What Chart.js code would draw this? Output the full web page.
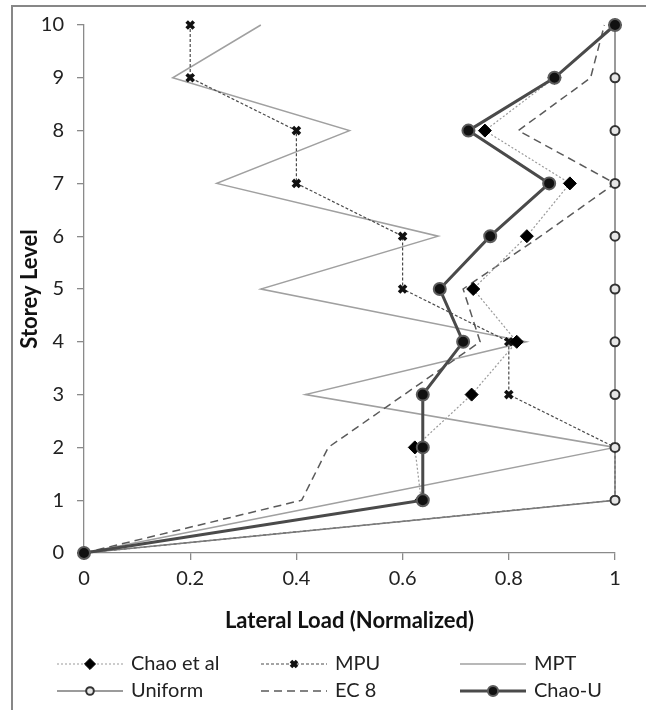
<!DOCTYPE html>
<html>
<head>
<meta charset="utf-8">
<script src="https://cdn.jsdelivr.net/npm/chart.js@4/dist/chart.umd.min.js"></script>
<style>
  html, body { margin: 0; padding: 0; background: #fff; }
  #wrap { position: relative; width: 646px; height: 710px; overflow: hidden; }
  #frame { position: absolute; left: 11px; top: 5px; width: 800px; height: 900px;
           border-top: 2px solid #878787; border-left: 2px solid #878787; }
  #c { position: absolute; left: 0; top: 0; }
</style>
</head>
<body>
<div id="wrap">
  <div id="frame"></div>
  <canvas id="c" width="646" height="710"></canvas>
</div>
<script>
// Storey levels (y) and normalized lateral load per storey (x)
const storeys  = [0, 1, 2, 3, 4, 5, 6, 7, 8, 9, 10];
const chaoEtAl = [0, 0.635, 0.623, 0.730, 0.815, 0.733, 0.834, 0.915, 0.755, 0.886, 1.0];
const mpu      = [0, 1.0, 1.0, 0.8, 0.8, 0.6, 0.6, 0.4, 0.4, 0.2, 0.2];
const mpt      = [0, 0.5, 1.0, 0.417, 0.833, 0.333, 0.667, 0.25, 0.5, 0.167, 0.333];
const uniform  = [0, 1, 1, 1, 1, 1, 1, 1, 1, 1, 1];
const ec8      = [0, 0.41, 0.46, 0.603, 0.746, 0.714, 0.86, 1.0, 0.818, 0.954, 0.98];
const chaoU    = [0, 0.638, 0.638, 0.638, 0.714, 0.670, 0.765, 0.876, 0.724, 0.886, 1.0];

const seriesNames = ['Chao et al', 'MPU', 'MPT', 'Uniform', 'EC 8', 'Chao-U'];
const xTicks = [0, 0.2, 0.4, 0.6, 0.8, 1];
const yTicks = storeys;

const FONT = 'Lato, "Liberation Sans", sans-serif';
const AXIS = '#8a8a8a';

const pts = vals => vals.map((v, i) => ({ x: v, y: storeys[i] }));

const datasets = [
  { label: seriesNames[0], data: pts(chaoEtAl), borderColor: '#9a9a9a', borderWidth: 1.2,
    borderDash: [2, 2], pointStyle: 'rectRot', pointRadius: 6.5,
    pointBackgroundColor: '#000', pointBorderColor: '#000', pointBorderWidth: 1, order: 2 },
  { label: seriesNames[1], data: pts(mpu), borderColor: '#4a4a4a', borderWidth: 1.2,
    borderDash: [3, 2], pointStyle: 'crossRot', pointRadius: 5,
    pointBackgroundColor: '#000', pointBorderColor: '#111', pointBorderWidth: 3.6, order: 3 },
  { label: seriesNames[2], data: pts(mpt), borderColor: '#a0a0a0', borderWidth: 1.5,
    borderDash: [], pointRadius: 0, pointStyle: false, order: 5 },
  { label: seriesNames[3], data: pts(uniform), borderColor: '#7a7a7a', borderWidth: 1.5,
    borderDash: [], pointStyle: 'circle', pointRadius: 4.5,
    pointBackgroundColor: '#e6e6e6', pointBorderColor: '#333', pointBorderWidth: 2, order: 1 },
  { label: seriesNames[4], data: pts(ec8), borderColor: '#5a5a5a', borderWidth: 1.5,
    borderDash: [8, 5], pointRadius: 0, pointStyle: false, order: 4 },
  { label: seriesNames[5], data: pts(chaoU), borderColor: '#4a4a4a', borderWidth: 3,
    borderDash: [], pointStyle: 'circle', pointRadius: 6,
    pointBackgroundColor: '#111', pointBorderColor: '#5c5c5c', pointBorderWidth: 2, order: 0 }
].map(d => Object.assign({ fill: false, tension: 0, clip: false, showLine: true,
                           pointHoverRadius: d.pointRadius }, d));

// Legend drawn beneath the axis title: 3 columns x 2 rows, each sample is line + marker
const legendPlugin = {
  id: 'sampleLegend',
  afterDraw(chart) {
    const ctx = chart.ctx;
    const colX = [57, 261, 460];
    const rowY = [664, 691];
    const sampleW = 66;
    ctx.save();
    chart.data.datasets.forEach((ds, i) => {
      const col = i % 3, row = Math.floor(i / 3);
      const x0 = colX[col], y = rowY[row];
      ctx.save();
      ctx.strokeStyle = ds.borderColor;
      ctx.lineWidth = ds.borderWidth;
      ctx.setLineDash(ds.borderDash || []);
      ctx.beginPath();
      ctx.moveTo(x0, y);
      ctx.lineTo(x0 + sampleW, y);
      ctx.stroke();
      ctx.setLineDash([]);
      if (ds.pointStyle && ds.pointRadius > 0) {
        ctx.fillStyle = ds.pointBackgroundColor;
        ctx.strokeStyle = ds.pointBorderColor;
        ctx.lineWidth = ds.pointBorderWidth;
        Chart.helpers.drawPoint(ctx, {
          pointStyle: ds.pointStyle, rotation: 0,
          radius: ds.pointRadius * 0.85, borderWidth: ds.pointBorderWidth
        }, x0 + sampleW / 2, y);
      }
      ctx.restore();
      ctx.fillStyle = '#222';
      ctx.font = '20px ' + FONT;
      ctx.textAlign = 'left';
      ctx.textBaseline = 'middle';
      ctx.fillText(ds.label, x0 + sampleW + 8, y);
    });
    ctx.restore();
  }
};

new Chart(document.getElementById('c'), {
  type: 'line',
  data: { datasets },
  plugins: [legendPlugin],
  options: {
    responsive: false,
    animation: false,
    events: [],
    layout: { padding: { left: 0, right: 31, top: 25, bottom: 70 } },
    plugins: { legend: { display: false }, tooltip: { enabled: false } },
    scales: {
      x: {
        type: 'linear', position: 'bottom', min: 0, max: 1,
        afterBuildTicks: s => { s.ticks = xTicks.map(v => ({ value: v })); },
        afterFit: s => { s.height = 87; },
        ticks: {
          padding: 7, color: '#222', font: { family: FONT, size: 20 },
          callback: v => (v === 0 || v === 1) ? String(v) : v.toFixed(1)
        },
        grid: {
          drawOnChartArea: false, drawTicks: true, tickLength: 7, lineWidth: 1.3,
          color: c => (c.tick && c.tick.value === 0) ? 'rgba(0,0,0,0)' : AXIS
        },
        border: { display: true, color: AXIS, width: 1.3 },
        title: {
          display: true, text: 'Lateral Load (Normalized)', color: '#111',
          font: { family: FONT, size: 22, weight: 'bold' }, padding: { top: 0, bottom: 6 }
        }
      },
      y: {
        type: 'linear', min: 0, max: 10,
        afterBuildTicks: s => { s.ticks = yTicks.map(v => ({ value: v })); },
        afterFit: s => { s.width = 84; },
        ticks: { padding: 13, color: '#222', font: { family: FONT, size: 20 } },
        grid: { drawOnChartArea: false, drawTicks: true, tickLength: 7, lineWidth: 1.3, color: AXIS },
        border: { display: true, color: AXIS, width: 1.3 },
        title: {
          display: true, text: 'Storey Level', color: '#111',
          font: { family: FONT, size: 22, weight: 'bold' }, padding: { top: 17, bottom: 0 }
        }
      }
    }
  }
});
</script>
</body>
</html>
